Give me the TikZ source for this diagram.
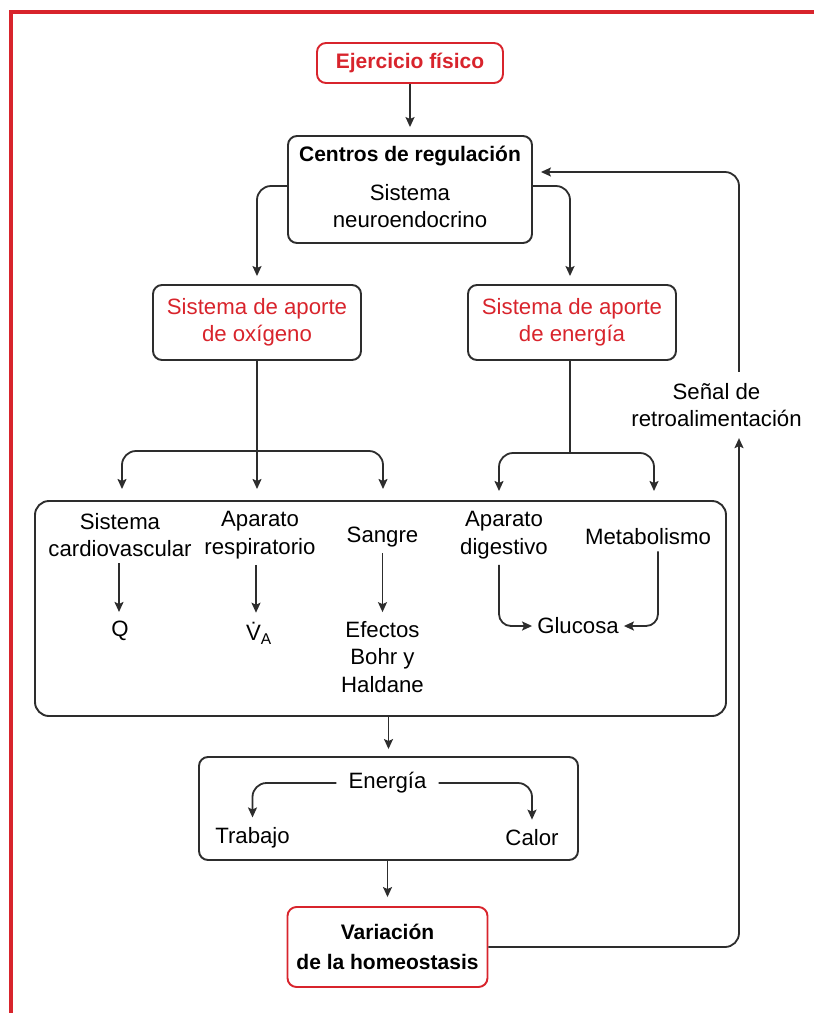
\documentclass[tikz,border=0pt]{standalone}
\usepackage{fontspec}
\setmainfont{Liberation Sans}
\usetikzlibrary{arrows.meta}
\definecolor{frred}{RGB}{216,36,44}
\definecolor{lin}{RGB}{45,45,45}
\newcommand\fsz{\fontsize{22.2}{27.5}\selectfont}
\newcommand\fszb{\fontsize{21}{27.5}\selectfont\bfseries}
\begin{document}
\begin{tikzpicture}[x=1pt,y=-1pt,
  font=\fsz,
  box/.style={draw=lin, line width=1.9pt, rounded corners=9pt, inner sep=0pt},
  redbox/.style={draw=frred, line width=1.9pt, rounded corners=9pt, inner sep=0pt},
  txt/.style={align=center, inner sep=1pt},
  arr/.style={draw=lin, line width=1.8pt, -{Stealth[length=10pt,width=9pt,inset=2pt]}},
  ln/.style={draw=lin, line width=1.8pt},
  rc/.style={rounded corners=14pt},
  frame/.style={draw=frred, line width=4pt},
]
\useasboundingbox (0,0) rectangle (814,1013);
% outer frame
\coordinate (fa) at (10.5,1013);
\coordinate (fb0) at (10.5,11.5);
\coordinate (fc) at (814,11.5);
\draw[frame] (fa) -- (fb0) -- (fc);

% top boxes
\node[redbox, minimum width=186, minimum height=40, text=frred, font=\fszb] (ej) at (410,63) {Ejercicio físico};
\node[box, minimum width=244, minimum height=107] (cr) at (410,189.5) {};
\node[txt, font=\fszb] (crt) at (410,156) {Centros de regulación};
\node[txt] (crs) at (410,206) {Sistema\\neuroendocrino};

\node[box, minimum width=208, minimum height=75, text=frred, align=center] (ox) at (257,322.5) {Sistema de aporte\\de oxígeno};
\node[box, minimum width=208, minimum height=75, text=frred, align=center] (en) at (572,322.5) {Sistema de aporte\\de energía};

\draw[arr, shorten >=8pt] (ej) -- (cr);
\draw[arr, rc, shorten >=8pt] ([yshift=3.5]cr.west) -| (ox.north);
\draw[arr, rc, shorten >=8pt] ([yshift=3.5]cr.east) -| ([xshift=-2]en.north);

% big box
\node[box, rounded corners=14pt, minimum width=691, minimum height=215] (big) at (380.5,608.5) {};

\coordinate (oxb) at (257,451);
\coordinate (t1) at (122,489);
\coordinate (t2) at (257,489);
\coordinate (t3) at (383,489);
\draw[arr] (ox.south) -- (t2);
\draw[arr, rc] (oxb) -| (t1);
\draw[arr, rc] (oxb) -| (t3);

\coordinate (enb) at (570,453);
\coordinate (t4) at (499,491);
\coordinate (t5) at (654,491);
\draw[ln] ([xshift=-2]en.south) -- (enb);
\draw[arr, rc] (enb) -| (t4);
\draw[arr, rc] (enb) -| (t5);

% inside big box
\node[txt] (cv) at (120,535) {Sistema\\cardiovascular};
\node[txt] (q) at (120,631) {Q};
\node[txt] (ar) at (260,535) {Aparato\\respiratorio};
\node[txt] (va) at (259,633) {\.{V}\textsubscript{A}};
\node[txt] (sg) at (382.5,537) {Sangre};
\node[txt] (bh) at (382.5,657) {Efectos\\Bohr y\\Haldane};
\node[txt] (dg) at (504,535) {Aparato\\digestivo};
\node[txt] (mb) at (648,537) {Metabolismo};
\node[txt, inner xsep=5pt] (gl) at (578,626) {Glucosa};

\draw[arr, shorten <=5pt, shorten >=8pt] ([xshift=-1]cv.south) -- ([xshift=-1]q.north);
\draw[arr, shorten <=5pt, shorten >=8pt] ([xshift=-4]ar.south) -- ([xshift=-3]va.north);
\draw[arr, shorten <=5pt, shorten >=8pt] (sg.south) -- (bh.north);
\draw[arr, rounded corners=12pt, shorten <=5pt] ([xshift=-5]dg.south) |- (gl.west);
\draw[arr, rounded corners=12pt, shorten <=5pt] ([xshift=10]mb.south) |- (gl.east);

% energy box
\node[box, minimum width=379, minimum height=103] (eb) at (388.5,808.5) {};
\node[txt, inner xsep=12pt] (eg) at (387.5,783) {Energía};
\node[txt] (tr) at (252.5,838) {Trabajo};
\node[txt] (ca) at (532,838) {Calor};
\draw[arr, rc, shorten >=9pt] (eg.west) -| (tr.north);
\draw[arr, rc, shorten >=9pt] (eg.east) -| (ca.north);

\draw[arr, shorten >=7pt] (big.south -| eb.north) -- (eb.north);

% variation box
\node[redbox, minimum width=200, minimum height=80, align=center, font=\fontsize{21}{30}\selectfont\bfseries] (vh) at (387.5,947) {Variación\\de la homeostasis};
\draw[arr, shorten >=9pt] (eb.south -| vh.north) -- (vh.north);

% feedback
\node[txt] (fbl) at (716.5,405) {Señal de\\retroalimentación};
\coordinate (fbx) at (739,0);
\draw[arr, rc, shorten >=10pt] (vh.east) -| (fbl.south -| fbx);
\draw[arr, rc, shorten <=10pt, shorten >=8pt] (fbl.north -| fbx) |- ([yshift=17.5]cr.east);
\end{tikzpicture}
\end{document}
